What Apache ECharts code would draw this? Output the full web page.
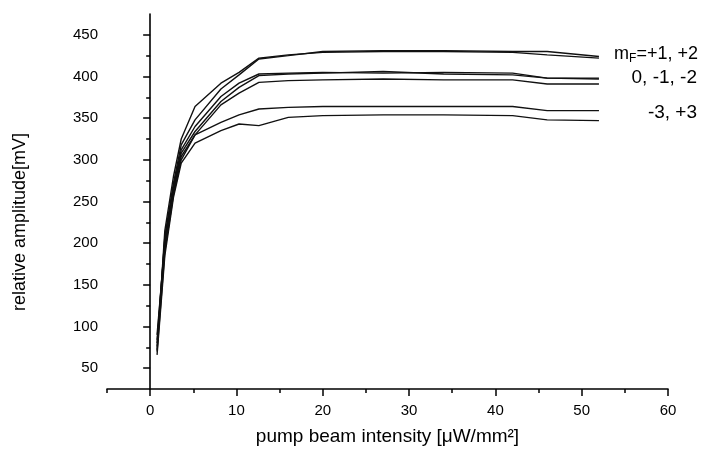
<!DOCTYPE html>
<html>
<head>
<meta charset="utf-8">
<script src="https://cdn.jsdelivr.net/npm/echarts@6/dist/echarts.min.js"></script>
<style>
  html, body { margin: 0; padding: 0; background: #fff; }
  #chart { width: 703px; height: 454px; }
</style>
</head>
<body>
<div id="chart"></div>
<script>
// pump intensity values (µW/mm²) at which the amplitudes were read
const intensity = [0.8, 1.7, 2.7, 3.6, 5.2, 8.2, 10.3, 12.6, 16, 20, 27, 34, 42, 46, 52];

// relative amplitude [mV], one array per curve
const mPlus1 = [72, 215, 280, 325, 364, 392, 405, 422, 426, 429, 430, 430, 429, 426, 422];
const mPlus2 = [76, 208, 272, 318, 348, 385, 402, 421, 425, 430, 431, 431, 430, 430, 424];
const m0 = [84, 205, 268, 312, 340, 376, 392, 403, 404, 405, 404, 405, 404, 398, 398];
const mMinus1 = [90, 200, 265, 308, 334, 370, 387, 401, 403, 404, 406, 403, 402, 398, 397];
const mMinus2 = [80, 195, 262, 304, 330, 366, 380, 393, 395, 396, 397, 396, 396, 391, 391];
const mMinus3 = [70, 190, 258, 300, 330, 345, 354, 361, 363, 364, 364, 364, 364, 359, 359];
const mPlus3 = [66, 185, 255, 296, 320, 335, 343, 341, 351, 353, 354, 354, 353, 348, 347];

const curves = [mPlus1, mPlus2, m0, mMinus1, mMinus2, mMinus3, mPlus3];

// axis ticks
const xMajor = [0, 10, 20, 30, 40, 50, 60];
const xMinor = [-5, 5, 15, 25, 35, 45, 55];
const yMajor = [50, 100, 150, 200, 250, 300, 350, 400, 450];
const yMinor = [75, 125, 175, 225, 275, 325, 375, 425];

// group labels at the right
const groupLabels = ['m{sub|F}=+1, +2', '0, -1, -2', '-3, +3'];

const chart = echarts.init(document.getElementById('chart'));
const font = 'Liberation Sans, Arial, sans-serif';

// build [x, y] pairs
const series = curves.map((vals) => {
  return {
    type: 'line',
    xAxisIndex: 0,
    yAxisIndex: 0,
    data: vals.map((v, i) => [intensity[i], v]),
    showSymbol: false,
    smooth: false,
    lineStyle: { color: '#111', width: 1.4 },
    silent: true,
  };
});

const axisLineStyle = { color: '#000', width: 1.6 };

const option = {
  animation: false,
  backgroundColor: '#fff',
  grid: { left: 107, right: 35, top: 14, bottom: 65 },
  xAxis: [
    {
      type: 'value',
      min: -5,
      max: 60,
      name: 'pump beam intensity [\u03bcW/mm\u00b2]',
      nameLocation: 'middle',
      nameGap: 38,
      nameTextStyle: { fontFamily: font, fontSize: 19, color: '#000' },
      axisLine: { show: true, lineStyle: axisLineStyle },
      axisTick: { show: true, length: 7, customValues: xMajor, lineStyle: { color: '#000', width: 1.5 } },
      axisLabel: { customValues: xMajor, fontFamily: font, fontSize: 15, color: '#000', margin: 14 },
      splitLine: { show: false },
    },
    {
      // minor ticks only
      type: 'value',
      min: -5,
      max: 60,
      position: 'bottom',
      axisLine: { show: false },
      axisTick: { show: true, length: 4, customValues: xMinor, lineStyle: { color: '#000', width: 1.5 } },
      axisLabel: { show: false },
      splitLine: { show: false },
    },
  ],
  yAxis: [
    {
      type: 'value',
      min: 25,
      max: 475,
      axisLine: { show: true, lineStyle: axisLineStyle },
      axisTick: { show: true, length: 7, customValues: yMajor, lineStyle: { color: '#000', width: 1.5 } },
      axisLabel: { customValues: yMajor, fontFamily: font, fontSize: 15, color: '#000', margin: 9 },
      splitLine: { show: false },
    },
    {
      type: 'value',
      min: 25,
      max: 475,
      position: 'left',
      axisLine: { show: false },
      axisTick: { show: true, length: 4, customValues: yMinor, lineStyle: { color: '#000', width: 1.5 } },
      axisLabel: { show: false },
      splitLine: { show: false },
    },
  ],
  graphic: [
    {
      type: 'text',
      x: 20,
      y: 222,
      rotation: Math.PI / 2,
      style: {
        text: 'relative amplitude[mV]',
        font: '18px ' + font,
        fill: '#000',
        align: 'center',
        verticalAlign: 'middle',
      },
    },
    {
      type: 'text',
      right: 5,
      top: 45,
      style: {
        text: groupLabels[0],
        font: '18px ' + font,
        fill: '#000',
        rich: { sub: { fontSize: 12, verticalAlign: 'bottom', padding: [9, 0, 0, 0] } },
      },
    },
    {
      type: 'text',
      right: 6,
      top: 68,
      style: { text: groupLabels[1], font: '19px ' + font, fill: '#000' },
    },
    {
      type: 'text',
      right: 6,
      top: 103,
      style: { text: groupLabels[2], font: '19px ' + font, fill: '#000' },
    },
  ],
  series: series,
};

chart.setOption(option);
</script>
</body>
</html>
